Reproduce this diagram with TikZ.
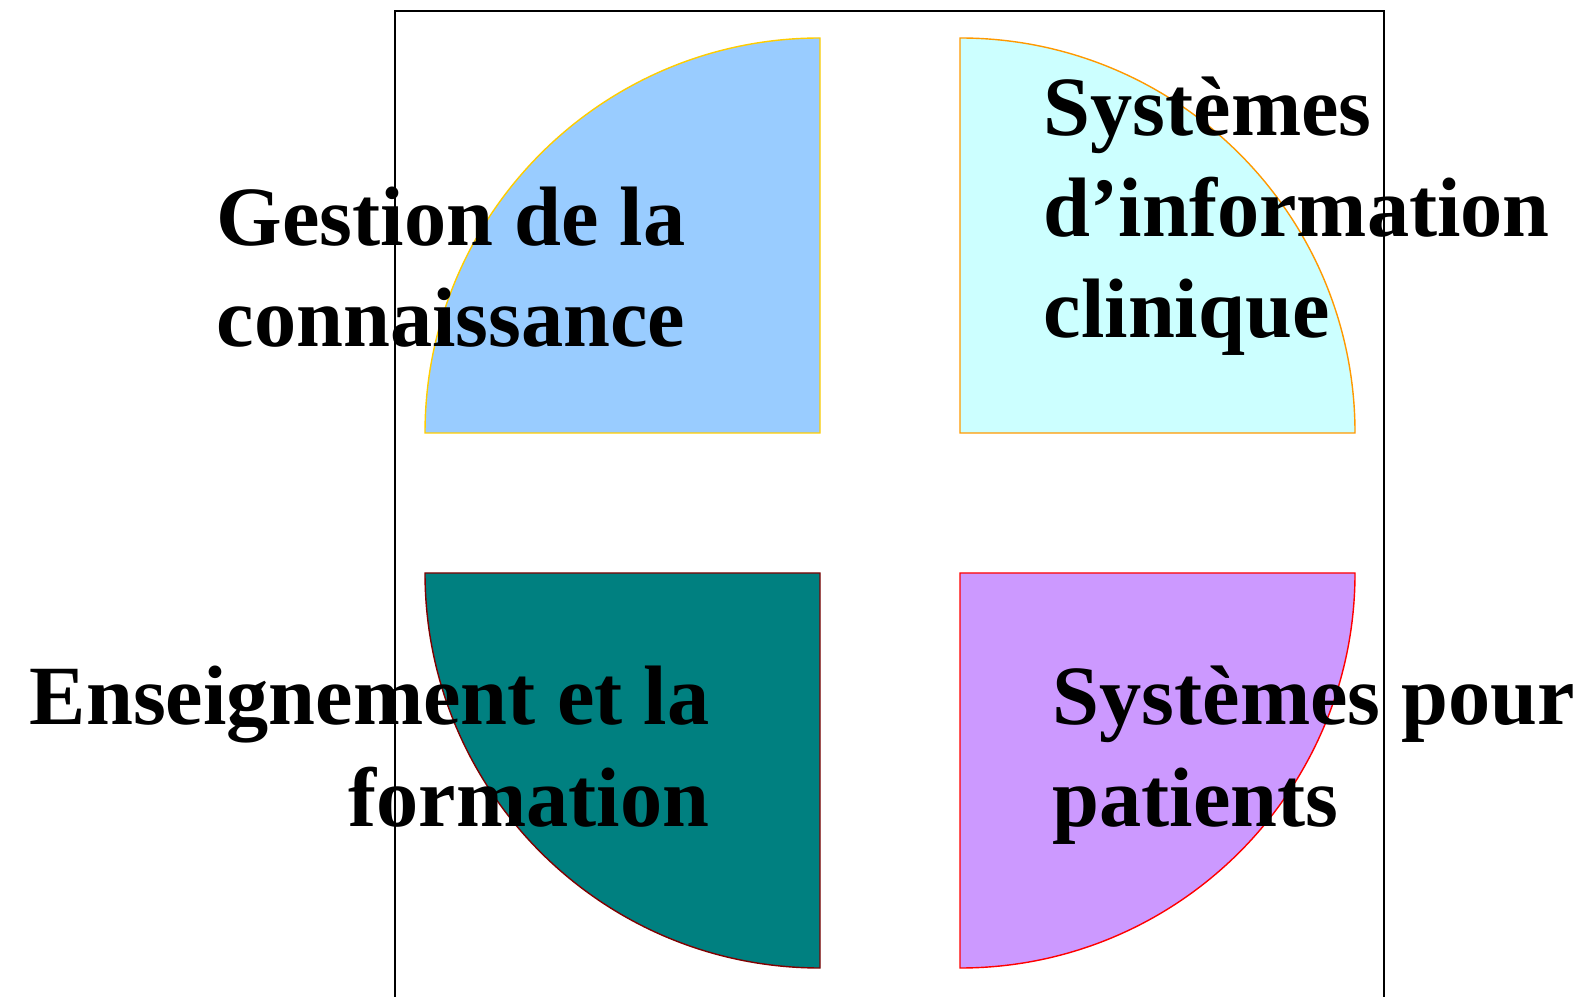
\documentclass[tikz,border=0pt]{standalone}
\usepackage{fontspec}
\setmainfont{Liberation Serif}
\usepackage{xcolor}
\usetikzlibrary{positioning}

\definecolor{skyfill}{HTML}{99CCFF}
\definecolor{goldline}{HTML}{FFCC00}
\definecolor{icefill}{HTML}{CCFFFF}
\definecolor{orangeline}{HTML}{FF9900}
\definecolor{tealfill}{HTML}{008080}
\definecolor{maroonline}{HTML}{800000}
\definecolor{lilacfill}{HTML}{CC99FF}
\definecolor{redline}{HTML}{FF0000}

\tikzset{quadtext/.style={font=\bfseries\fontsize{24}{28.8}\selectfont, inner sep=0pt}}

\begin{document}
\begin{tikzpicture}
\useasboundingbox (0,0) rectangle (15.83,9.96);
\draw [line width=0.5pt] (3.95,-0.2) -- (3.95,9.85) -- (13.84,9.85) -- (13.84,-0.2);

\filldraw [fill=skyfill, draw=goldline] (8.20,5.63) -- (8.20,9.58) arc [start angle=90, end angle=180, radius=3.95] -- cycle;
\filldraw [fill=icefill, draw=orangeline] (9.60,5.63) -- (13.55,5.63) arc [start angle=0, end angle=90, radius=3.95] -- cycle;
\filldraw [fill=tealfill, draw=maroonline] (8.20,4.23) -- (4.25,4.23) arc [start angle=180, end angle=270, radius=3.95] -- cycle;
\filldraw [fill=lilacfill, draw=redline] (9.60,4.23) -- (9.60,0.28) arc [start angle=270, end angle=360, radius=3.95] -- cycle;

\node (gestion) at (6.86,6.49) [quadtext, anchor=base east, align=right] {Gestion de la\\connaissance};
\node (sysinfo) at (10.43,6.58) [quadtext, anchor=base west, align=left] {Systèmes\\d’information\\clinique};
\node (enseign) at (7.10,1.70) [quadtext, anchor=base east, align=right] {Enseignement et la\\formation};
\node (syspat) at (10.52,1.70) [quadtext, anchor=base west, align=left] {Systèmes pour\\patients};
\end{tikzpicture}
\end{document}
